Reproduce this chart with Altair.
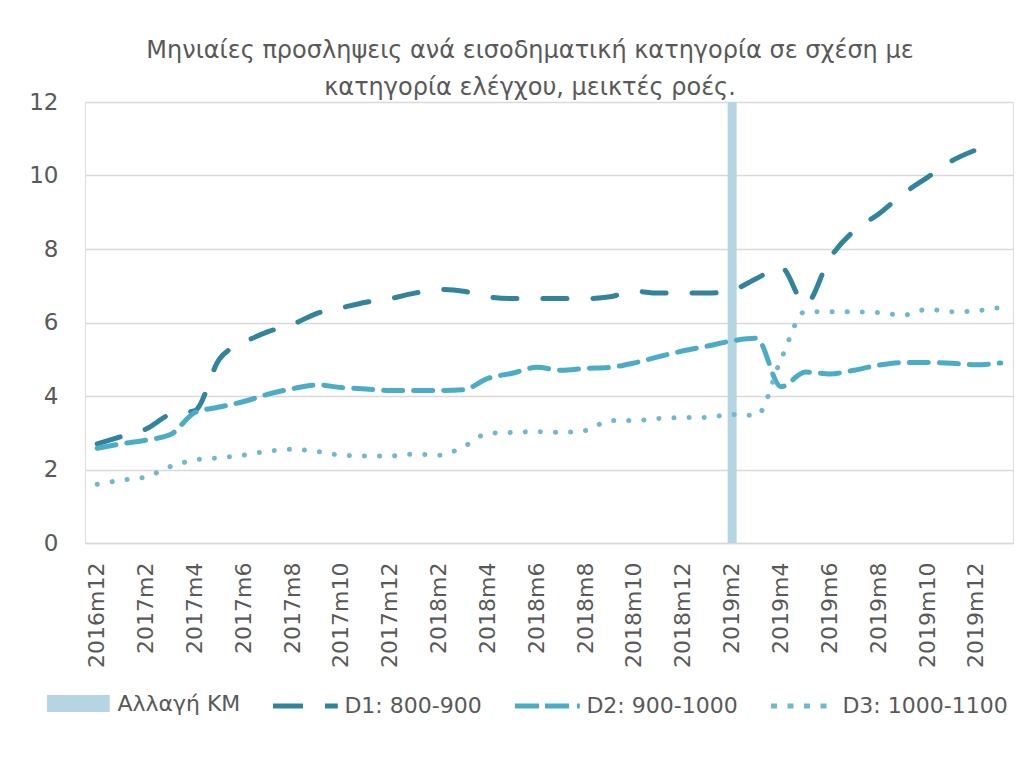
import altair as alt
import pandas as pd

# ---------------- data ----------------
months = [
    "2016m12",
    "2017m1", "2017m2", "2017m3", "2017m4", "2017m5", "2017m6",
    "2017m7", "2017m8", "2017m9", "2017m10", "2017m11", "2017m12",
    "2018m1", "2018m2", "2018m3", "2018m4", "2018m5", "2018m6",
    "2018m7", "2018m8", "2018m9", "2018m10", "2018m11", "2018m12",
    "2019m1", "2019m2", "2019m3", "2019m4", "2019m5", "2019m6",
    "2019m7", "2019m8", "2019m9", "2019m10", "2019m11", "2019m12",
    "2020m1",
]
tick_labels = months[::2]

d1 = [2.70, 2.90, 3.10, 3.50, 3.60, 5.00, 5.45, 5.75, 5.95, 6.25, 6.40, 6.55,
      6.65, 6.80, 6.90, 6.85, 6.70, 6.65, 6.65, 6.65, 6.65, 6.70, 6.85, 6.80,
      6.80, 6.80, 6.88, 7.20, 7.50, 6.50, 7.75, 8.50, 8.95, 9.50, 9.95, 10.40,
      10.70, None]
d2 = [2.58, 2.70, 2.80, 2.95, 3.55, 3.70, 3.85, 4.05, 4.20, 4.30, 4.23, 4.19,
      4.15, 4.15, 4.15, 4.17, 4.48, 4.62, 4.78, 4.70, 4.75, 4.78, 4.90, 5.07,
      5.23, 5.36, 5.50, 5.57, 4.25, 4.65, 4.60, 4.70, 4.84, 4.91, 4.91, 4.89,
      4.85, 4.90]
d3 = [1.60, 1.71, 1.80, 2.08, 2.26, 2.32, 2.39, 2.50, 2.55, 2.49, 2.39, 2.37,
      2.37, 2.42, 2.39, 2.62, 2.98, 3.01, 3.03, 3.01, 3.06, 3.33, 3.33, 3.39,
      3.41, 3.42, 3.50, 3.47, 5.00, 6.30, 6.29, 6.29, 6.27, 6.20, 6.36, 6.29,
      6.32, 6.41]

change_month = ["2019m2"]
change_value = [12]

series_names = ["Αλλαγή ΚΜ", "D1: 800-900", "D2: 900-1000", "D3: 1000-1100"]
series_colors = ["#B4D5E1", "#31849B", "#4BACC6", "#6FB9CE"]
series_dashes = [[1, 0], [24, 26], [19, 11], [0.1, 15]]

title_lines = [
    "Μηνιαίες προσληψεις ανά εισοδηματική κατηγορία σε σχέση με",
    "κατηγορία ελέγχου, μεικτές ροές.",
]

# ---------------- tables ----------------
rows = []
for name, vals in zip(series_names[1:], [d1, d2, d3]):
    for m, v in zip(months, vals):
        if v is not None:
            rows.append({"month": m, "series": name, "value": v})
lines_df = pd.DataFrame(rows)
bar_df = pd.DataFrame({"month": change_month,
                       "series": [series_names[0]] * len(change_month),
                       "value": change_value})

FONT = "DejaVu Sans"
GREY = "#595959"

x_enc = alt.X(
    "month:N",
    sort=months,
    scale=alt.Scale(domain=months, paddingInner=0, paddingOuter=0),
    axis=alt.Axis(
        values=tick_labels, labelAngle=-90, labelAlign="right",
        labelBaseline="middle", labelFontSize=22, labelFont=FONT,
        labelColor=GREY, labelPadding=19, ticks=False, domain=True,
        domainColor="#D9D9D9", domainWidth=1.3, grid=False, title=None,
    ),
)
y_enc = alt.Y(
    "value:Q",
    scale=alt.Scale(domain=[0, 12], nice=False, zero=True),
    axis=alt.Axis(
        values=[0, 2, 4, 6, 8, 10, 12], labelFontSize=23, labelFont=FONT,
        labelColor=GREY, labelPadding=27, ticks=False, domain=False,
        gridColor="#D9D9D9", gridWidth=1.3, title=None,
    ),
)

BAR = series_names[0]
legend = alt.Legend(
    title=None, orient="none", direction="horizontal", columns=4,
    legendX=-41.6, legendY=566.5, symbolSize=4200, symbolStrokeWidth=5,
    labelFontSize=22, labelFont=FONT, labelColor=GREY, labelOffset=4,
    columnPadding=22, padding=0, labelLimit=400,
    values=series_names,
    symbolOpacity=1,
    symbolFillColor="#B4D5E1",
    symbolType=alt.ExprRef(
        f"datum.value == '{BAR}' ? 'M-0.89,-0.185H0.89V0.185H-0.89Z' : 'stroke'"
    ),
    symbolDash=alt.ExprRef(
        "datum.value == 'D1: 800-900' ? [30, 22] : "
        "datum.value == 'D2: 900-1000' ? [24, 6, 24, 8, 7, 8] : "
        "datum.value == 'D3: 1000-1100' ? [6, 10.5] : [1, 0]"
    ),
)

color_enc = alt.Color(
    "series:N",
    scale=alt.Scale(domain=series_names, range=series_colors),
    legend=legend,
)

bars = alt.Chart(bar_df).mark_bar(size=9).encode(
    x=x_enc, y=y_enc, color=color_enc,
)

line_layers = []
for name, dash in zip(series_names[1:], series_dashes[1:]):
    line_layers.append(
        alt.Chart(lines_df)
        .transform_filter(alt.datum.series == name)
        .mark_line(strokeWidth=5, strokeCap="round", strokeJoin="round",
                   interpolate="monotone", strokeDash=dash)
        .encode(
            x=alt.X("month:N", sort=months, bandPosition=0.5),
            y="value:Q",
            color=color_enc,
        )
    )

chart = alt.layer(bars, *line_layers).properties(
    width=928,
    height=441,
    autosize=alt.AutoSizeParams(type="none"),
    padding={"left": 77, "top": 94, "right": 8, "bottom": 200},
    title=alt.TitleParams(
        text=title_lines, font=FONT, fontSize=24, fontWeight="normal",
        color=GREY, anchor="middle", offset=0, dy=9, dx=-19, lineHeight=37,
    ),
).configure_view(stroke=None).configure(background="white")

chart.save("out.html", embed_options={"renderer": "svg", "actions": False})
